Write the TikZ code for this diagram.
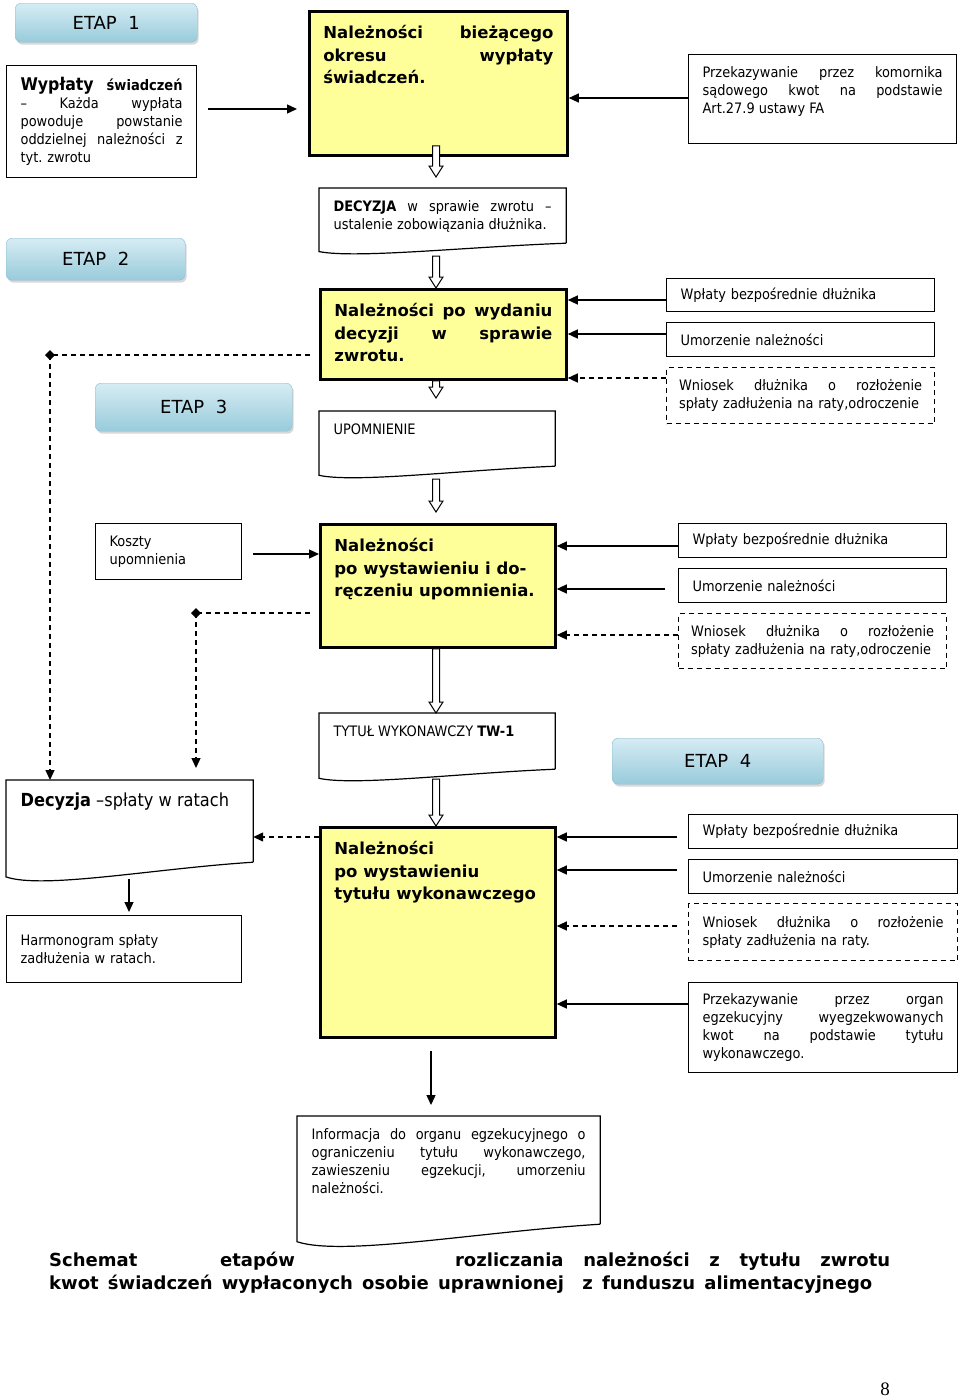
\documentclass[tikz,border=0pt]{standalone}
\usepackage{fontspec}
\setmainfont{DejaVu Sans Condensed}
\newfontfamily\verdana{DejaVu Sans}
\newfontfamily\timesf{Liberation Serif}
\usetikzlibrary{arrows.meta,calc,shadows}
\frenchspacing

\definecolor{yellowbox}{RGB}{255,255,153}
\definecolor{etaptop}{RGB}{214,236,244}
\definecolor{etapbottom}{RGB}{152,203,219}
\definecolor{etapedge}{RGB}{140,188,205}

\newcommand\hs{\hskip 0pt plus 1fill\relax}
% hollow arrow, tip at the second point
\newcommand\hollowarrow[2]{%
  \draw[line width=1pt, fill=white] let \p1=#1, \p2=#2 in
    (\x1-3.5pt,\y1) -- (\x1-3.5pt,\y2+11pt) -- (\x1-7pt,\y2+11pt) -- (\x1,\y2)
    -- (\x1+7pt,\y2+11pt) -- (\x1+3.5pt,\y2+11pt) -- (\x1+3.5pt,\y1) -- cycle;}
% document frame with wavy bottom
\newcommand\docframe[2]{%
  \draw[line width=1.2pt] (#1.south east) -- (#1.north east) -- (#1.north west)
    -- ($(#1.south west)+(0,0.7*#2)$)
    .. controls ($(#1.south west)!0.15!(#1.south east)+(0,1.3*#2)$)
    and ($(#1.south west)!0.6!(#1.south east)+(0,0.3*#2)$) .. (#1.south east);}

\begin{document}
\begin{tikzpicture}[x=1pt, y=-1pt,
        etap/.style={rectangle, rounded corners=6pt, draw=etapedge, top color=etaptop, bottom color=etapbottom, drop shadow={shadow xshift=1.5pt, shadow yshift=-2.5pt, opacity=0.3}, font=\verdana\fontsize{18}{18}\selectfont, anchor=north west, inner sep=0pt},
        box/.style={rectangle, draw, line width=1.2pt, fill=white, anchor=north west, inner xsep=14pt, inner ysep=0pt, align=left, font=\fontsize{14.4}{18}\selectfont},
        topbox/.style={box, inner ysep=12pt},
        dashbox/.style={box, dash pattern=on 5pt off 4pt},
        docu/.style={topbox, draw=none},
        yellow/.style={rectangle, draw, line width=2.8pt, fill=yellowbox, anchor=north west, inner xsep=14pt, inner ysep=14pt, font=\verdana\bfseries\fontsize{16.5}{22.5}\selectfont},
        titletext/.style={inner sep=0pt, anchor=base west, font=\verdana\bfseries\fontsize{18}{23}\selectfont},
        arrow/.style={-{Triangle[length=10pt, width=9pt]}, line width=1.3pt},
        dashline/.style={line width=1.3pt, dash pattern=on 5pt off 4pt},
        dasharrow/.style={arrow, dash pattern=on 5pt off 4pt}
    ]
\fill[white] (0,0) rectangle (960,1400);
\useasboundingbox (0,0) rectangle (960,1400);

% Stage 1
        \node[etap, minimum width=182pt, minimum height=39pt] (etap1) at (15,3) {ETAP\ \ 1\hspace{28pt}};
        \node[box, text width=162pt, minimum height=112pt] (wyp) at (6,65) {{\bfseries\fontsize{17.5}{18}\selectfont Wypłaty}\hs{\bfseries\fontsize{14.5}{18}\selectfont świadczeń}\\ –\hs Każda\hs wypłata\\ powoduje\hs powstanie\\ oddzielnej\hs należności\hs z\\ tyt. zwrotu};
        \node[yellow] (y1) at (308,10) {\parbox[c][116pt][t]{230pt}{Należności\hs bieżącego\\ okresu\hs wypłaty\\ świadczeń.}};
        \node[topbox] (kom) at (688,54) {\parbox[c][65pt][t]{240pt}{Przekazywanie\hs przez\hs komornika\\ sądowego\hs kwot\hs na\hs podstawie\\ Art.27.9 ustawy FA}};

% Stage 2
        \node[docu] (dec) at (319,188) {\parbox[c][30pt][t]{218pt}{\textbf{DECYZJA}\hs w\hs sprawie\hs zwrotu\hs –\\ ustalenie zobowiązania dłużnika.}};
        \docframe{dec}{12}
        \node[etap, minimum width=179pt, minimum height=42pt] (etap2) at (6,238) {ETAP\ \ 2\hspace{26pt}};
        \node[yellow] (y2) at (319,288) {\parbox[c][62pt][t]{218pt}{Należności\hs po\hs wydaniu\\ decyzji\hs w\hs sprawie\\ zwrotu.}};
        \node[box, text width=240pt, minimum height=33pt] (wp2) at (666,278) {Wpłaty bezpośrednie dłużnika};
        \node[box, text width=240pt, minimum height=34pt] (um2) at (666,322) {Umorzenie należności};
        \node[dashbox, text width=243pt, inner xsep=12.5pt, minimum height=56pt] (wn2) at (666,367) {Wniosek\hs dłużnika\hs o\hs rozłożenie\\ spłaty zadłużenia na raty,odroczenie};

% Stage 3
        \node[etap, minimum width=197pt, minimum height=48pt] (etap3) at (95,383) {ETAP\ \ 3};
        \node[docu] (upo) at (319,411) {\parbox[c][30pt][t]{207pt}{UPOMNIENIE}};
        \docframe{upo}{13}
        \node[box, text width=118pt, minimum height=56pt] (kos) at (95,523) {Koszty\\ upomnienia};
        \node[yellow] (y3) at (319,523) {\parbox[c][95pt][t]{207pt}{Należności\\ po wystawieniu i do-\\ręczeniu upomnienia.}};
        \node[box, text width=240pt, minimum height=34pt] (wp3) at (678,523) {Wpłaty bezpośrednie dłużnika};
        \node[box, text width=240pt, minimum height=34pt] (um3) at (678,568) {Umorzenie należności};
        \node[dashbox, text width=243pt, inner xsep=12.5pt, minimum height=55pt] (wn3) at (678,613) {Wniosek\hs dłużnika\hs o\hs rozłożenie\\ spłaty zadłużenia na raty,odroczenie};

% Stage 4
        \node[docu] (tyt) at (319,713) {\parbox[c][31pt][t]{207pt}{TYTUŁ WYKONAWCZY \textbf{TW-1}}};
        \docframe{tyt}{13}
        \node[etap, minimum width=211pt, minimum height=46pt] (etap4) at (612,738) {ETAP\ \ 4\hspace{12pt}};
        \node[docu] (decR) at (6,780) {\parbox[c][57pt][t]{218pt}{\fontsize{18}{20}\selectfont\textbf{Decyzja} –spłaty w ratach}};
        \docframe{decR}{21}
        \node[box, text width=207pt, minimum height=67pt] (harm) at (6,915) {Harmonogram spłaty\\ zadłużenia w ratach.\\[4pt]};
        \node[yellow] (y4) at (319,826) {\parbox[c][182pt][t]{207pt}{Należności\\ po wystawieniu\\ tytułu wykonawczego}};
        \node[box, text width=241pt, minimum height=34pt] (wp4) at (688,814) {Wpłaty bezpośrednie dłużnika};
        \node[box, text width=241pt, minimum height=34pt] (um4) at (688,859) {Umorzenie należności};
        \node[dashbox, text width=241pt, minimum height=57pt] (wn4) at (688,903) {Wniosek\hs dłużnika\hs o\hs rozłożenie\\ spłaty zadłużenia na raty.};
        \node[box, text width=241pt, minimum height=90pt] (pr4) at (688,982) {Przekazywanie\hs przez\hs organ\\ egzekucyjny\hs wyegzekwowanych\\ kwot\hs na\hs podstawie\hs tytułu\\ wykonawczego.};
        \node[docu] (inf) at (297,1116) {\parbox[c][83pt][t]{274pt}{Informacja\hs do\hs organu\hs egzekucyjnego\hs o\\ ograniczeniu\hs tytułu\hs wykonawczego,\\ zawieszeniu\hs egzekucji,\hs umorzeniu\\ należności.}};
        \docframe{inf}{25}

% Caption
        \node[titletext] (title1) at (49,1266) {\hbox to 841pt{Schemat\hskip 0pt plus 80fill etapów\hskip 0pt plus 155fill rozliczania\hskip 0pt plus 19fill należności\hskip 0pt plus 19fill z\hskip 0pt plus 19fill tytułu\hskip 0pt plus 19fill zwrotu}};
        \node[titletext] (title2) at (49,1289) {\makebox[823pt][s]{kwot świadczeń wypłaconych osobie uprawnionej\ \ z funduszu alimentacyjnego}};
        \node[inner sep=0pt, anchor=base, font=\timesf\fontsize{19}{19}\selectfont] (page) at (885,1395) {8};

% Arrows
        \draw[arrow, shorten <=11pt, shorten >=11pt] (wyp.east |- 0,109) -- (y1.west |- 0,109);
        \draw[arrow] (kom.west |- 0,98) -- (y1.east |- 0,98);
        \draw[arrow] (wp2.west |- 0,300) -- (y2.east |- 0,300);
        \draw[arrow] (um2.west |- 0,334) -- (y2.east |- 0,334);
        \draw[dasharrow] (wn2.west |- 0,378) -- (y2.east |- 0,378);
        \draw[arrow, shorten <=11pt] (kos.east |- 0,554) -- (y3.west |- 0,554);
        \draw[arrow] (wp3.west |- 0,546) -- (y3.east |- 0,546);
        \draw[arrow, shorten <=13pt] (um3.west |- 0,589) -- (y3.east |- 0,589);
        \draw[dasharrow] (wn3.west |- 0,635) -- (y3.east |- 0,635);
        \draw[dasharrow] (y4.west |- 0,837) -- (decR.east |- 0,837);
        \draw[arrow, shorten <=17pt, shorten >=3pt] (decR.south -| 129,0) -- (harm.north -| 129,0);
        \draw[arrow, shorten <=11pt] (wp4.west |- 0,837) -- (y4.east |- 0,837);
        \draw[arrow, shorten <=11pt] (um4.west |- 0,870) -- (y4.east |- 0,870);
        \draw[dasharrow, shorten <=11pt] (wn4.west |- 0,926) -- (y4.east |- 0,926);
        \draw[arrow] (pr4.west |- 0,1004) -- (y4.east |- 0,1004);
        \draw[arrow, shorten <=12pt, shorten >=11pt] (y4.south -| 431,0) -- (inf.north -| 431,0);

% Dashed links to the instalment decision
        \coordinate (k1) at (50,355);
        \coordinate (k2) at (196,613);
        \draw[dashline, shorten <=9pt] (y2.west |- k1) -- (k1);
        \draw[dasharrow] (k1) -- (k1 |- decR.north);
        \fill (k1) +(-5,0) -- +(0,-5) -- +(5,0) -- +(0,5) -- cycle;
        \draw[dashline, shorten <=9pt] (y3.west |- k2) -- (k2);
        \draw[dasharrow, shorten >=12pt] (k2) -- (k2 |- decR.north);
        \fill (k2) +(-5,0) -- +(0,-5) -- +(5,0) -- +(0,5) -- cycle;

% Hollow arrows
        \hollowarrow{($(y1.south -| 436,0)+(0,-11)$)}{($(dec.north -| 436,0)+(0,-11)$)}
        \hollowarrow{($(dec.south -| 436,0)+(0,13)$)}{(y2.north -| 436,0)}
        \hollowarrow{(y2.south -| 436,0)}{($(upo.north -| 436,0)+(0,-13)$)}
        \hollowarrow{($(upo.south -| 436,0)+(0,13)$)}{($(y3.north -| 436,0)+(0,-11)$)}
        \hollowarrow{(y3.south -| 436,0)}{(tyt.north -| 436,0)}
        \hollowarrow{($(tyt.south -| 436,0)+(0,10)$)}{(y4.north -| 436,0)}
\end{tikzpicture}
\end{document}
